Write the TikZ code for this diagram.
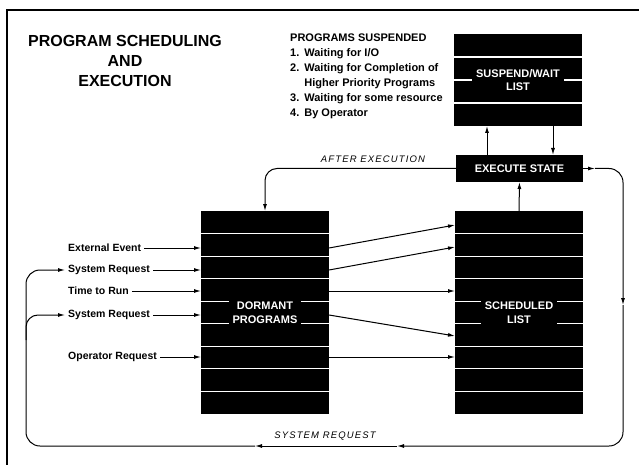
\documentclass[tikz,border=0pt]{standalone}
\usepackage{fontspec}
\setmainfont{Liberation Sans}
\newfontfamily\spacedfont[LetterSpace=12]{Liberation Sans}
\usepackage{tikz}
\usetikzlibrary{arrows.meta}

\tikzset{
    listbox/.style={fill=black, inner sep=0pt, outer sep=0pt, minimum width=128pt},
    rowline/.style={white, line width=1.1pt},
    boxlabel/.style={fill=black, text=white, align=center, inner sep=4pt, font=\bfseries\fontsize{11}{13.5}\selectfont},
    inlabel/.style={anchor=west, inner sep=3pt, font=\bfseries\fontsize{10.5}{12}\selectfont},
    arrowline/.style={line width=1pt, -{Latex[length=7pt,width=4pt]}},
    pathlabel/.style={font=\spacedfont\itshape\fontsize{9.5}{11}\selectfont}
}

\begin{document}
\begin{tikzpicture}[x=1pt, y=-1pt]
    \useasboundingbox (0,0) rectangle (639,465);
    \draw[line width=1.5pt] (7,465) -- (7,10) -- (639,10);

    \node[font=\bfseries\fontsize{16}{20}\selectfont, align=center] (title) at (125,61) {PROGRAM SCHEDULING\\AND\\EXECUTION};
    \node[anchor=north west, inner sep=0pt, font=\bfseries\fontsize{11}{15}\selectfont] (reasons) at (290,31) {%
        \begin{tabular}{@{}l@{\hspace{5pt}}l@{}}
            \multicolumn{2}{@{}l@{}}{PROGRAMS SUSPENDED}\\
            1. & Waiting for I/O\\
            2. & Waiting for Completion of\\
               & Higher Priority Programs\\
            3. & Waiting for some resource\\
            4. & By Operator
        \end{tabular}};

    \node[listbox, minimum height=92pt] (suspend) at (518,80) {};
    \foreach \k in {1,2,3}
        \draw[rowline] ([yshift=-\k*23pt]suspend.north west) -- ([yshift=-\k*23pt]suspend.north east);
    \node[boxlabel] (suspendlbl) at (suspend) {SUSPEND/WAIT\\LIST};

    \node[listbox, minimum width=127pt, minimum height=27pt, text=white, font=\bfseries\fontsize{11}{13}\selectfont] (execute) at (519.5,168.5) {EXECUTE STATE};

    \node[listbox, minimum height=203pt] (dormant) at (265,312.5) {};
    \node[listbox, minimum height=203pt] (sched) at (519,312.5) {};
    \foreach \k in {1,...,8} {
        \draw[rowline] ([yshift=-\k*22.56pt]dormant.north west) -- ([yshift=-\k*22.56pt]dormant.north east);
        \draw[rowline] ([yshift=-\k*22.56pt]sched.north west) -- ([yshift=-\k*22.56pt]sched.north east);
    }
    \node[boxlabel] (dormantlbl) at (dormant) {DORMANT\\PROGRAMS};
    \node[boxlabel] (schedlbl) at (sched) {SCHEDULED\\LIST};

    \draw[arrowline] (execute.north -| 487,0) -- (suspend.south -| 487,0);
    \draw[arrowline] (suspend.south -| 553,0) -- (execute.north -| 553,0);
    \draw[arrowline] (sched.north) -- (execute.south);

    \node[inlabel] (event) at (65,248) {External Event};
    \node[inlabel] (sysreqa) at (65,270) {System Request};
    \node[inlabel] (timerun) at (65,291) {Time to Run};
    \node[inlabel] (sysreqb) at (65,315) {System Request};
    \node[inlabel] (opreq) at (65,357) {Operator Request};
    \foreach \n in {event,sysreqa,timerun,sysreqb,opreq}
        \draw[arrowline] (\n) -- (\n -| dormant.west);

    \draw[arrowline] (event -| dormant.east) -- (sched.west |- 0,225);
    \draw[arrowline] (sysreqa -| dormant.east) -- (sched.west |- 0,247);
    \draw[arrowline] (timerun -| dormant.east) -- (timerun -| sched.west);
    \draw[arrowline] (sysreqb -| dormant.east) -- (sched.west |- 0,336);
    \draw[arrowline] (opreq -| dormant.east) -- (opreq -| sched.west);

    \draw[arrowline, rounded corners=12pt] (execute.west) -| (dormant.north);
    \node[pathlabel] (afterlbl) at (373,159) {AFTER EXECUTION};

    \coordinate (rdown) at (623,305);
    \coordinate (bright) at (397,446);
    \coordinate (bleft) at (255,446);
    \draw[arrowline] (execute.east) -- ++(12,0) coordinate (eout);
    \draw[arrowline, rounded corners=14pt] (eout) -| (rdown);
    \draw[arrowline, rounded corners=14pt] (rdown) |- (bright);
    \draw[arrowline] (bright) -- (bleft);
    \draw[arrowline, rounded corners=14pt] (bleft) -| (sysreqa.west -| 26,0) -- (sysreqa.west);
    \draw[arrowline, rounded corners=12pt] (26,340) |- (sysreqb.west);
    \node[pathlabel] (sysreqlbl) at (325,436) {SYSTEM REQUEST};
\end{tikzpicture}
\end{document}
